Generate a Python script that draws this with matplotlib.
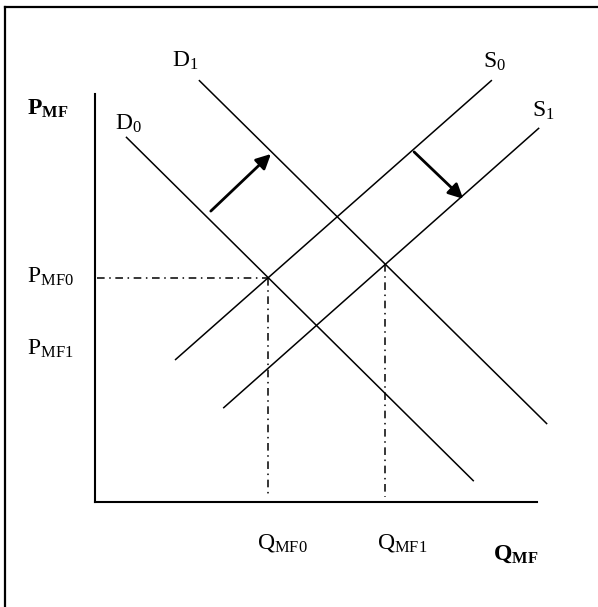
import numpy as np
import matplotlib
matplotlib.use("Agg")
import matplotlib.pyplot as plt
from matplotlib.lines import Line2D

plt.rcParams['font.family'] = ['Liberation Serif', 'DejaVu Serif']
plt.rcParams['mathtext.fontset'] = 'custom'
plt.rcParams['mathtext.rm'] = 'Liberation Serif'
plt.rcParams['mathtext.it'] = 'Liberation Serif:italic'
plt.rcParams['mathtext.bf'] = 'Liberation Serif:bold'

# curve end points (quantity, price) in chart units
d0_q = [0.70, 8.57]
d0_p = [8.95, 0.51]
d1_q = [2.35, 10.23]
d1_p = [10.34, 1.91]
s0_q = [1.81, 8.98]
s0_p = [3.48, 10.34]
s1_q = [2.90, 10.05]
s1_p = [2.30, 9.17]

# shift arrows: (start q, start p, end q, end p)
demand_shift = [2.62, 7.13, 3.98, 8.53]
supply_shift = [7.22, 8.58, 8.33, 7.43]

# curve labels (text, q, p)
curve_labels = [r'$\mathrm{D}_{1}$', r'$\mathrm{D}_{0}$', r'$\mathrm{S}_{0}$', r'$\mathrm{S}_{1}$']
curve_label_q = [1.74, 0.45, 8.78, 9.89]
curve_label_p = [10.66, 9.12, 10.64, 9.44]

price_labels = [r'$\mathrm{P}_{\mathrm{MF0}}$', r'$\mathrm{P}_{\mathrm{MF1}}$']
price_label_p = [5.37, 3.60]
qty_labels = [r'$\mathrm{Q}_{\mathrm{MF0}}$', r'$\mathrm{Q}_{\mathrm{MF1}}$']
qty_label_q = [3.67, 6.38]


def intersect(q1, p1, q2, p2):
    m1 = (p1[1] - p1[0]) / (q1[1] - q1[0])
    m2 = (p2[1] - p2[0]) / (q2[1] - q2[0])
    b1 = p1[0] - m1 * q1[0]
    b2 = p2[0] - m2 * q2[0]
    q = (b2 - b1) / (m1 - m2)
    return q, m1 * q + b1


fig = plt.figure(figsize=(5.98, 6.07), dpi=100)
fig.add_artist(Line2D([5 / 598, 5 / 598], [0, 1 - 7 / 607], color='black', lw=1.6))
fig.add_artist(Line2D([5 / 598, 1], [1 - 7 / 607, 1 - 7 / 607], color='black', lw=1.6))

ax = fig.add_axes([95 / 598, 105 / 607, 442 / 598, 408 / 607])
ax.set_xlim(0, 10)
ax.set_ylim(0, 10)
ax.set_xticks([])
ax.set_yticks([])
for side in ['top', 'right']:
    ax.spines[side].set_visible(False)
for side in ['left', 'bottom']:
    ax.spines[side].set_linewidth(1.5)

for q, p in [(d0_q, d0_p), (d1_q, d1_p), (s0_q, s0_p), (s1_q, s1_p)]:
    ax.plot(q, p, color='black', lw=1.1, clip_on=False, solid_capstyle='butt')

dashdot = (0, (5, 3, 1, 3))
e0 = intersect(d0_q, d0_p, s0_q, s0_p)
e1 = intersect(d1_q, d1_p, s1_q, s1_p)
ax.plot([0.05, e0[0]], [e0[1], e0[1]], color='black', lw=1.1, ls=dashdot)
ax.plot([e0[0], e0[0]], [e0[1], 0.12], color='black', lw=1.1, ls=dashdot)
ax.plot([e1[0], e1[0]], [e1[1], 0.12], color='black', lw=1.1, ls=dashdot)

for a in [demand_shift, supply_shift]:
    ax.annotate('', xy=(a[2], a[3]), xytext=(a[0], a[1]),
                arrowprops=dict(arrowstyle='-|>', mutation_scale=22, lw=2,
                                color='black', shrinkA=0, shrinkB=0))

for t, q, p in zip(curve_labels, curve_label_q, curve_label_p):
    ax.text(q, p, t, fontsize=17, va='baseline', ha='left', clip_on=False)
for t, p in zip(price_labels, price_label_p):
    ax.text(-1.54, p, t, fontsize=17, va='baseline', ha='left', clip_on=False)
for t, q in zip(qty_labels, qty_label_q):
    ax.text(q, -1.13, t, fontsize=17, va='baseline', ha='left', clip_on=False)

ax.text(-1.54, 9.49, r'$\mathbf{P}_{\mathbf{MF}}$', fontsize=17, va='baseline', ha='left')
ax.text(9.00, -1.42, r'$\mathbf{Q}_{\mathbf{MF}}$', fontsize=17, va='baseline', ha='left')

fig.savefig('out.png', dpi=100)
